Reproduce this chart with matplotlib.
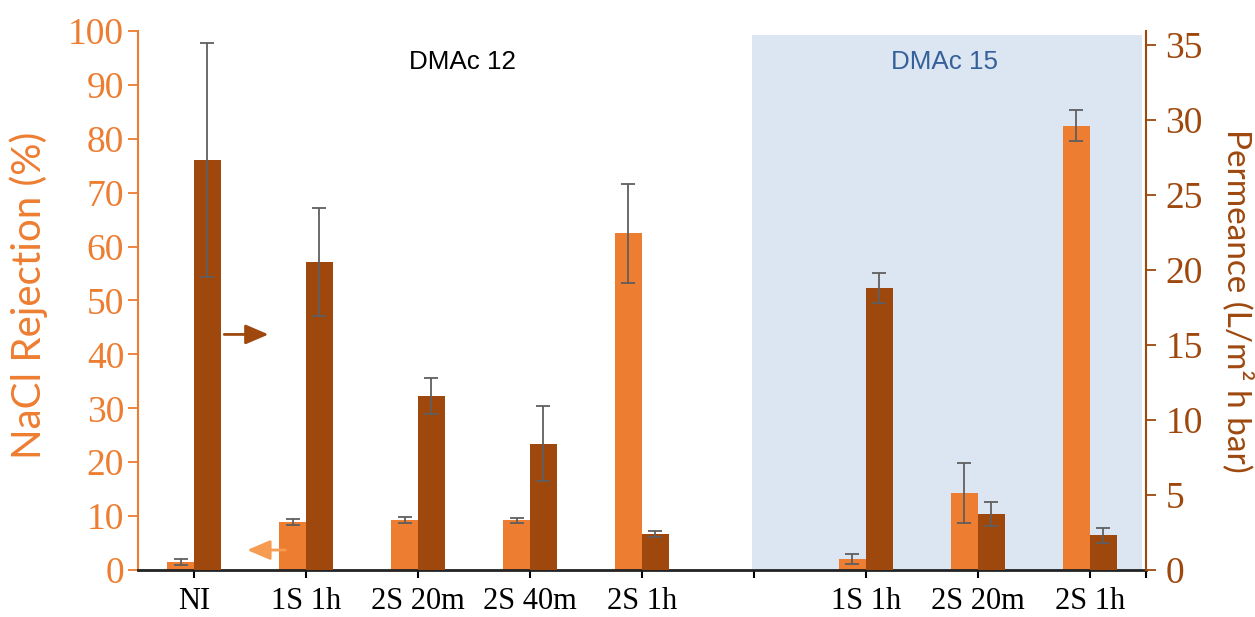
import numpy as np
import matplotlib
matplotlib.use("Agg")
import matplotlib.pyplot as plt
from matplotlib.patches import Rectangle

# Sample groups (blank slot separates the two DMAc series)
categories = ["NI", "1S 1h", "2S 20m", "2S 40m", "2S 1h", "", "1S 1h", "2S 20m", "2S 1h"]
rejection = [1.5, 8.9, 9.3, 9.2, 62.5, np.nan, 2.1, 14.3, 82.4]
rejection_err = [0.6, 0.6, 0.6, 0.4, 9.2, np.nan, 0.9, 5.6, 2.9]
permeance = [27.3, 20.5, 11.6, 8.4, 2.4, np.nan, 18.8, 3.7, 2.3]
permeance_err = [7.8, 3.6, 1.2, 2.5, 0.2, np.nan, 1.0, 0.8, 0.5]
rejection_ticks = list(range(0, 101, 10))
permeance_ticks = list(range(0, 36, 5))

ORANGE = "#ED7D31"
BROWN = "#9E480E"
LIGHT_ORANGE = "#F59B52"
ERR = "#5F5F5F"
SHADE = "#DCE6F2"
BLUE_TEXT = "#35609A"

serif = "Liberation Serif"
sans = "Lato"

fig = plt.figure(figsize=(12.55, 6.17), dpi=100)
ax = fig.add_axes([0.110, 0.0762, 0.803, 0.8736])
ax2 = ax.twinx()

x = np.arange(len(categories))
w = 0.24

# DMAc 15 background panel
ax.add_patch(Rectangle((4.98, 0), 3.49, 99.2, facecolor=SHADE, edgecolor="none", zorder=0))

ekw = dict(ecolor=ERR, elinewidth=1.3, capsize=5, capthick=1.3)
ax.bar(x - w / 2, rejection, width=w, color=ORANGE, yerr=rejection_err,
       error_kw=ekw, zorder=2)
ax2.bar(x + w / 2, permeance, width=w, color=BROWN, yerr=permeance_err,
        error_kw=ekw, zorder=2)

ax.set_xlim(-0.5, 8.5)
ax.set_ylim(0, 100)
ax2.set_ylim(0, 35 * 539 / 525)

# Axis styling
ax.set_xticks(x)
ax.set_xticklabels(categories, fontfamily=serif, fontsize=22)
ax.set_xticks([8.5], minor=True)
ax.tick_params(axis="x", which="both", direction="out", length=6, width=1.5,
               color="black", pad=6)
ax.set_yticks(rejection_ticks)
ax.set_yticklabels([str(t) for t in rejection_ticks], fontfamily=serif,
                   fontsize=27, color=ORANGE)
ax.tick_params(axis="y", direction="out", length=7, width=1.3, color=ORANGE, pad=3)
ax2.set_yticks(permeance_ticks)
ax2.set_yticklabels([str(t) for t in permeance_ticks], fontfamily=serif,
                    fontsize=27, color=BROWN)
ax2.tick_params(axis="y", direction="out", length=7, width=1.3, color=BROWN, pad=7)

for a in (ax, ax2):
    a.spines["top"].set_visible(False)
ax.spines["bottom"].set_color("#222222")
ax.spines["bottom"].set_linewidth(2)
ax.spines["left"].set_color(ORANGE)
ax.spines["left"].set_linewidth(1.5)
ax.spines["right"].set_visible(False)
ax2.spines["left"].set_visible(False)
ax2.spines["bottom"].set_visible(False)
ax2.spines["right"].set_color(BROWN)
ax2.spines["right"].set_linewidth(1.5)
ax.set_zorder(0)
ax2.set_zorder(1)
ax2.patch.set_visible(False)

# Axis titles
fig.text(0.0225, 0.522, "NaCl Rejection (%)", fontfamily=sans, fontsize=29,
         color=ORANGE, rotation=90, ha="center", va="center")
fig.text(0.9865, 0.512, "Permeance (L/m² h bar)", fontfamily=sans, fontsize=24,
         color=BROWN, rotation=270, ha="center", va="center")

# Group titles
ax.text(2.4, 94.2, "DMAc 12", fontfamily="Liberation Sans", fontsize=18.7,
        color="black", ha="center", va="center")
ax.text(6.7, 94.2, "DMAc 15", fontfamily="Liberation Sans", fontsize=18.7,
        color=BLUE_TEXT, ha="center", va="center")

# Arrows pointing to the axis each series belongs to
ax.annotate("", xy=(0.69, 43.7), xytext=(0.245, 43.7),
            arrowprops=dict(arrowstyle="-|>,head_length=1.4,head_width=0.6",
                            color=BROWN, lw=2), zorder=3)
ax.annotate("", xy=(0.45, 3.7), xytext=(0.84, 3.7),
            arrowprops=dict(arrowstyle="-|>,head_length=1.4,head_width=0.6",
                            color=LIGHT_ORANGE, lw=2), zorder=3)

fig.savefig("out.png", dpi=100)
